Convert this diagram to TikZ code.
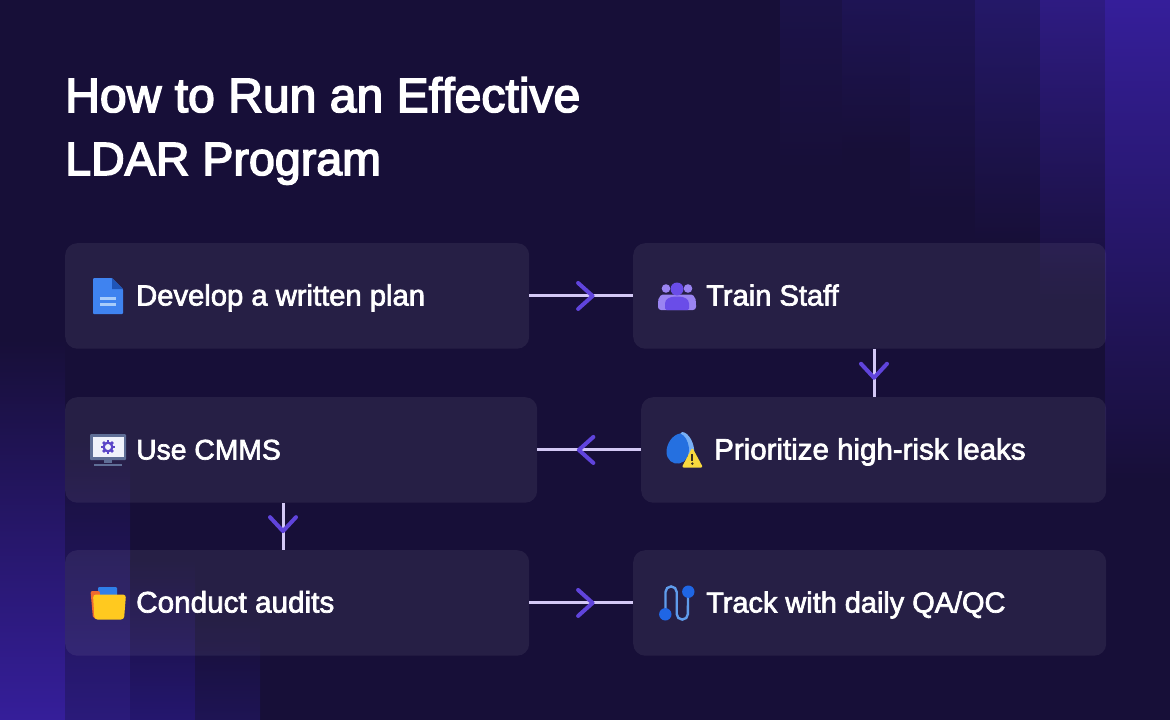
\documentclass[tikz,border=0pt]{standalone}
\usepackage{fontspec}
\usetikzlibrary{calc}
\setmainfont{Liberation Sans}
\newfontfamily\titlefont[FakeBold=3.2]{Liberation Sans}
\newfontfamily\labelfont[FakeBold=2.4]{Liberation Sans}
\definecolor{bgdark}{HTML}{170F38}
\definecolor{linelilac}{HTML}{D3C8F5}
\definecolor{tipviolet}{HTML}{6044DC}
\definecolor{docblue}{HTML}{3F83F0}
\definecolor{docdark}{HTML}{1F55B8}
\definecolor{doclines}{HTML}{A8CCFA}
\definecolor{peoplelight}{HTML}{9A84F2}
\definecolor{peopledark}{HTML}{6A4DE8}
\definecolor{dropblue}{HTML}{2570E0}
\definecolor{droplight}{HTML}{78B0F5}
\definecolor{warnyellow}{HTML}{F8D93E}
\definecolor{warndark}{HTML}{3A3020}
\definecolor{screenlight}{HTML}{F0F2FB}
\definecolor{bezel}{HTML}{5F6E96}
\definecolor{gearviolet}{HTML}{5A45C8}
\definecolor{folderyellow}{HTML}{FFC91F}
\definecolor{folderorange}{HTML}{EE6A30}
\definecolor{tabblue}{HTML}{2F7FE8}
\definecolor{trackline}{HTML}{5F9CEB}
\definecolor{trackdot}{HTML}{1F66E5}
\definecolor{vA}{RGB}{53,30,154}
\definecolor{vB}{RGB}{44,27,132}
\definecolor{vC}{RGB}{42,26,122}
\definecolor{vD}{RGB}{33,21,102}
\definecolor{vE}{RGB}{36,22,110}
\definecolor{vF}{RGB}{30,20,84}
\tikzset{
  x=1pt,y=-1pt,
  card/.style={fill=white,fill opacity=0.068,rounded corners=12pt,draw=none,inner sep=0pt,anchor=north west,minimum height=105.5pt},
  cardlabel/.style={text=white,font=\labelfont\fontsize{#1}{32}\selectfont,anchor=base west,inner sep=0pt},
  titletext/.style={text=white,font=\titlefont\fontsize{#1}{60}\selectfont,anchor=base west,inner sep=0pt},
  stem/.style={draw=linelilac,line width=3pt},
  chevron/.style={draw=tipviolet,line width=4pt,line cap=round,line join=round},
}
\begin{document}
\begin{tikzpicture}
\useasboundingbox (0,0) rectangle (1170,720);
\fill[bgdark] (0,0) rectangle (1170,720);
% background bands, upper right
\shade[top color={rgb,255:red,27;green,18;blue,72},bottom color=bgdark] (780,0) rectangle (842,170);
\shade[top color={rgb,255:red,30;green,20;blue,84},bottom color=bgdark] (842,0) rectangle (910,150);
\shade[top color={rgb,255:red,30;green,20;blue,86},bottom color=bgdark] (910,0) rectangle (975,210);
\shade[top color={rgb,255:red,36;green,24;blue,104},bottom color=bgdark] (975,0) rectangle (1040,240);
\shade[top color={rgb,255:red,46;green,27;blue,130},bottom color=bgdark] (1040,0) rectangle (1105,300);
\shade[top color=vA,middle color=vB,bottom color=bgdark] (1105,0) rectangle (1170,480);
% background bands, lower left
\shade[bottom color=vA,middle color=vB,top color=bgdark] (0,340) rectangle (65,720);
\shade[bottom color=vC,middle color=vD,top color=bgdark] (65,440) rectangle (130,720);
\shade[bottom color=vE,middle color=vF,top color=bgdark] (130,560) rectangle (195,720);
\shade[bottom color=vF,top color=bgdark] (195,620) rectangle (260,720);
% title
\node[titletext=48.1] (title1) at (65,112) {How to Run an Effective};
\node[titletext=46.6] (title2) at (65,175) {LDAR Program};
% cards
\node[card,minimum width=464pt] (plan) at (65,243) {};
\node[card,minimum width=473pt] (train) at (633,243) {};
\node[card,minimum width=472pt] (cmms) at (65,397) {};
\node[card,minimum width=465pt] (prior) at (641,397) {};
\node[card,minimum width=464pt] (audit) at (65,550) {};
\node[card,minimum width=473pt] (track) at (633,550) {};
% labels
\node[cardlabel=29.2] (lplan) at (136,305.5) {Develop a written plan};
\node[cardlabel=29.1] (ltrain) at (706,305.5) {Train Staff};
\node[cardlabel=28.3] (lcmms) at (136,459.5) {Use CMMS};
\node[cardlabel=29.5] (lprior) at (714,459.5) {Prioritize high-risk leaks};
\node[cardlabel=29.7] (laudit) at (136,612.5) {Conduct audits};
\node[cardlabel=28.9] (ltrack) at (706,612.5) {Track with daily QA/QC};
% connectors
\coordinate (downa) at (874,0);
\coordinate (downb) at (283,0);
\draw[stem] (plan.east) -- (train.west) coordinate[pos=0.61] (tipa);
\draw[stem] (train.south -| downa) -- (prior.north -| downa) coordinate[pos=0.6] (tipb);
\draw[stem] (prior.west) -- (cmms.east) coordinate[pos=0.6] (tipc);
\draw[stem] (cmms.south -| downb) -- (audit.north -| downb) coordinate[pos=0.6] (tipd);
\draw[stem] (audit.east) -- (track.west) coordinate[pos=0.61] (tipe);
\draw[chevron] ($(tipa)+(-14.5,-13)$) -- (tipa) -- ($(tipa)+(-14.5,13)$);
\draw[chevron] ($(tipb)+(-13,-14)$) -- (tipb) -- ($(tipb)+(13,-14)$);
\draw[chevron] ($(tipc)+(14.5,-13)$) -- (tipc) -- ($(tipc)+(14.5,13)$);
\draw[chevron] ($(tipd)+(-13,-14)$) -- (tipd) -- ($(tipd)+(13,-14)$);
\draw[chevron] ($(tipe)+(-14.5,-13)$) -- (tipe) -- ($(tipe)+(-14.5,13)$);
% document icon
\fill[docblue,rounded corners=1pt] (93,278) -- (112,278) -- (123,289) -- (123,314) -- (93,314) -- cycle;
\fill[docdark] (112,278) -- (123,289) -- (112,289) -- cycle;
\fill[doclines] (100,296.5) rectangle (116,299.5);
\fill[doclines] (100,302.5) rectangle (116,305.5);
% people icon
\fill[peoplelight] (666,288.5) circle (4.3);
\fill[peoplelight] (688,288.5) circle (4.3);
\fill[peoplelight,rounded corners=3pt] (658,310) -- (658,302) .. controls (659,296) and (662,294.5) .. (666,294.5) -- (688,294.5) .. controls (692,294.5) and (695,296) .. (696,302) -- (696,310) -- cycle;
\fill[peopledark] (677,289) circle (6.5);
\fill[peopledark,rounded corners=1.5pt] (665,310) -- (665,305) .. controls (665,299) and (670,296.5) .. (677,296.5) .. controls (684,296.5) and (689,299) .. (689,305) -- (689,310) -- cycle;
% drop and warning icon
\fill[droplight] (682,432) .. controls (689,432) and (695,445) .. (694,452) .. controls (691,458) and (682,456) .. (680,450) .. controls (677,443) and (678,434) .. (682,432) -- cycle;
\fill[dropblue] (680,433.5) .. controls (672,435) and (666.5,444) .. (666.5,452) .. controls (666.5,460) and (673,464.5) .. (679,463.5) .. controls (686,462.5) and (689.5,455) .. (689,448) .. controls (688,441) and (685,435) .. (680,433.5) -- cycle;
\fill[warnyellow,rounded corners=2pt] (692.3,447.5) -- (703,467.5) -- (681.7,467.5) -- cycle;
\fill[warndark] (691.2,453.5) rectangle (693.4,461);
\fill[warndark] (692.3,463.6) circle (1.4);
% monitor icon
\fill[bezel,rounded corners=1pt] (90,434) rectangle (126,460);
\fill[screenlight] (92.5,436.5) rectangle (123.5,456.5);
\fill[bezel] (104,460) rectangle (112,463);
\fill[bezel] (94,464) rectangle (122,466);
\foreach \ang in {0,45,...,135}{
  \fill[gearviolet,rotate around={\ang:(108,447)}] (106.6,440) rectangle (109.4,454);
}
\fill[gearviolet] (108,447) circle (5.6);
\fill[screenlight] (108,447) circle (3);
% folder icon
\fill[tabblue,rounded corners=1pt] (98,587) rectangle (117,597);
\fill[folderorange,rounded corners=2pt] (90.5,591) -- (100,591) -- (100,595) -- (98,618.5) -- (93,618.5) -- cycle;
\fill[folderyellow,rounded corners=3pt] (93,594.5) -- (126,594.5) -- (124,619.5) -- (94.5,619.5) -- cycle;
% track icon
\draw[trackline,line width=2.4pt,line cap=round] (665.5,612) -- (665.5,592) arc[start angle=180,end angle=0,x radius=5.6,y radius=-5.6] -- (676.7,614) arc[start angle=180,end angle=360,x radius=5.6,y radius=-5.6] -- (688,594);
\fill[trackdot] (665.3,614.3) circle (6.2);
\fill[trackdot] (688.3,591.7) circle (6.2);
\end{tikzpicture}
\end{document}
